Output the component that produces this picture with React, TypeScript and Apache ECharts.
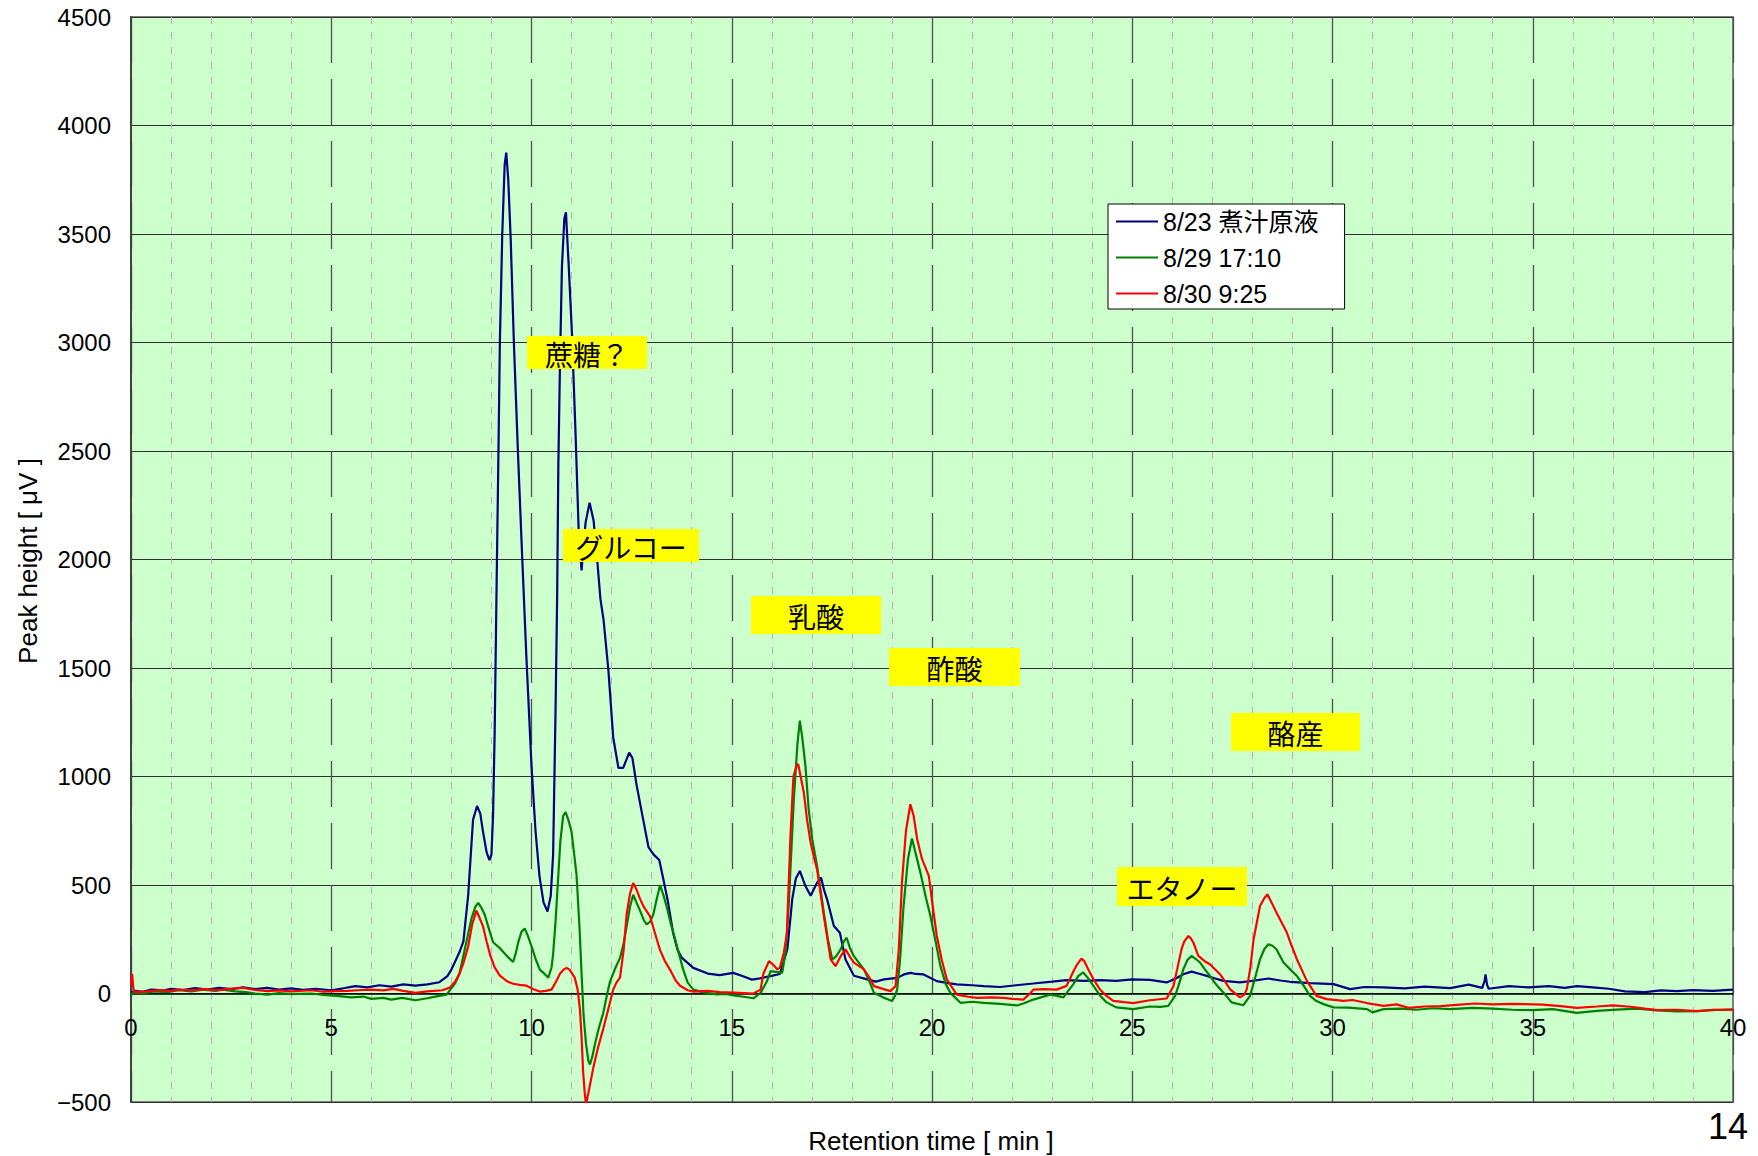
import React, { useEffect, useRef } from "react";
import * as echarts from "echarts";

// ---- data (retention time [min], peak height [µV]) ----
const seriesNames = ["8/23 煮汁原液", "8/29 17:10", "8/30 9:25"];

const blueData: number[][] = [
  [0, 5], [0.1, 12], [0.3, 8], [0.5, 18], [0.8, 14], [1.0, 22], [1.3, 16], [1.6, 25], [1.9, 18], [2.2, 26], [2.5, 20], [2.8, 28], [3.1, 20], [3.4, 26], [3.7, 18], [4.0, 24], [4.3, 17], [4.6, 22], [5.0, 15], [5.3, 24], [5.6, 34], [5.9, 28], [6.2, 38], [6.5, 32], [6.8, 42], [7.1, 36], [7.4, 42], [7.7, 52], [7.9, 80], [8.0, 110], [8.2, 190], [8.3, 240], [8.42, 455], [8.54, 800], [8.64, 864], [8.72, 830], [8.79, 745], [8.88, 650], [8.95, 615], [9.0, 640], [9.04, 820], [9.08, 1200], [9.13, 1900], [9.17, 2430], [9.21, 3000], [9.27, 3500], [9.33, 3820], [9.37, 3875], [9.42, 3750], [9.48, 3480], [9.56, 3000], [9.66, 2500], [9.77, 2000], [9.87, 1560], [10.0, 1050], [10.1, 750], [10.2, 540], [10.3, 420], [10.4, 378], [10.48, 450], [10.54, 640], [10.6, 1300], [10.64, 1820], [10.67, 2430], [10.71, 2890], [10.76, 3350], [10.82, 3570], [10.86, 3600], [10.93, 3350], [11.01, 3040], [11.1, 2580], [11.18, 2120], [11.25, 1950], [11.35, 2170], [11.45, 2262], [11.55, 2180], [11.64, 2000], [11.72, 1820], [11.8, 1720], [11.92, 1490], [12.04, 1180], [12.17, 1040], [12.29, 1040], [12.44, 1110], [12.52, 1085], [12.62, 965], [12.79, 800], [12.92, 675], [13.05, 640], [13.19, 615], [13.3, 520], [13.4, 430], [13.54, 275], [13.65, 200], [13.75, 165], [14.04, 118], [14.4, 92], [14.7, 85], [15.04, 95], [15.3, 78], [15.5, 64], [15.7, 70], [15.97, 80], [16.2, 90], [16.3, 150], [16.39, 205], [16.51, 434], [16.6, 530], [16.7, 565], [16.84, 495], [16.97, 450], [17.13, 511], [17.23, 534], [17.3, 480], [17.38, 434], [17.55, 311], [17.7, 280], [17.84, 157], [18.05, 82], [18.38, 65], [18.6, 55], [18.8, 65], [19.13, 72], [19.3, 88], [19.46, 95], [19.6, 90], [19.79, 88], [20.12, 57], [20.4, 48], [20.62, 42], [21.0, 38], [21.29, 34], [21.7, 30], [22.1, 38], [22.53, 46], [23.0, 55], [23.36, 62], [23.8, 58], [24.2, 62], [24.6, 58], [25.0, 65], [25.44, 63], [25.86, 51], [26.1, 70], [26.275, 89], [26.48, 101], [26.65, 92], [26.86, 81], [27.05, 70], [27.275, 58], [27.69, 51], [28.0, 58], [28.4, 69], [28.7, 60], [28.94, 54], [29.44, 48], [30.025, 43], [30.44, 20], [30.8, 30], [31.275, 28], [31.8, 24], [32.3, 32], [32.94, 25], [33.4, 41], [33.74, 26], [33.8, 60], [33.82, 88], [33.86, 40], [33.9, 22], [34.4, 34], [34.9, 28], [35.4, 34], [35.8, 26], [36.1, 34], [36.5, 28], [36.9, 22], [37.3, 10], [37.8, 6], [38.2, 14], [38.6, 11], [39.0, 16], [39.5, 12], [40, 18],
];

const greenData: number[][] = [
  [0, -10], [0.05, 5], [0.3, 2], [0.6, 10], [0.9, 6], [1.2, 15], [1.5, 10], [1.8, 18], [2.1, 12], [2.3, 18], [2.6, 10], [2.87, 6], [3.1, 0], [3.4, -5], [3.7, 2], [4.0, -3], [4.5, 0], [4.8, -6], [5.2, -12], [5.5, -18], [5.8, -14], [6.0, -25], [6.3, -20], [6.5, -28], [6.77, -20], [7.1, -31], [7.4, -22], [7.66, -12], [7.88, -5], [8.1, 49], [8.2, 90], [8.33, 200], [8.5, 345], [8.6, 400], [8.67, 418], [8.75, 395], [8.83, 364], [8.95, 290], [9.04, 236], [9.21, 209], [9.4, 170], [9.54, 145], [9.6, 180], [9.67, 236], [9.75, 285], [9.83, 300], [9.9, 270], [10.0, 218], [10.1, 160], [10.21, 109], [10.3, 95], [10.42, 73], [10.5, 120], [10.54, 182], [10.6, 330], [10.67, 545], [10.72, 700], [10.79, 818], [10.85, 836], [10.92, 800], [11.0, 745], [11.06, 650], [11.125, 545], [11.2, 300], [11.25, 91], [11.3, -100], [11.36, -230], [11.42, -310], [11.46, -327], [11.52, -290], [11.58, -236], [11.68, -160], [11.79, -91], [11.88, -10], [11.96, 55], [12.1, 120], [12.21, 164], [12.3, 230], [12.375, 309], [12.46, 400], [12.54, 455], [12.62, 420], [12.71, 382], [12.8, 340], [12.875, 318], [12.96, 330], [13.04, 364], [13.12, 430], [13.21, 500], [13.3, 450], [13.375, 400], [13.48, 320], [13.58, 255], [13.7, 170], [13.79, 109], [13.9, 50], [14.04, 18], [14.3, 5], [14.625, -4], [14.85, -2], [15.04, -9], [15.3, -15], [15.54, -22], [15.72, 3], [15.875, 55], [15.97, 103], [16.1, 100], [16.26, 95], [16.35, 200], [16.43, 434], [16.55, 895], [16.64, 1150], [16.7, 1257], [16.76, 1180], [16.84, 1049], [16.92, 850], [17.01, 711], [17.13, 588], [17.3, 372], [17.4, 250], [17.51, 157], [17.6, 170], [17.72, 203], [17.8, 240], [17.87, 257], [17.95, 210], [18.05, 172], [18.3, 111], [18.45, 50], [18.55, 3], [18.8, -20], [19.0, -35], [19.08, -10], [19.13, 18], [19.2, 150], [19.29, 403], [19.4, 620], [19.5, 714], [19.6, 640], [19.71, 557], [19.85, 440], [19.96, 357], [20.1, 230], [20.21, 126], [20.35, 40], [20.46, 3], [20.71, -43], [21.0, -38], [21.29, -43], [21.7, -48], [22.12, -55], [22.3, -45], [22.53, -28], [22.95, -5], [23.1, -10], [23.28, -18], [23.53, 43], [23.65, 80], [23.775, 97], [23.9, 70], [24.03, 35], [24.2, -10], [24.36, -41], [24.6, -64], [25.02, -72], [25.44, -60], [25.7, -62], [25.9, -57], [26.07, -11], [26.18, 50], [26.275, 112], [26.38, 155], [26.48, 173], [26.58, 160], [26.69, 143], [26.8, 115], [26.94, 81], [27.1, 40], [27.275, 5], [27.48, -41], [27.775, -54], [27.94, -11], [28.05, 60], [28.19, 158], [28.3, 205], [28.4, 227], [28.5, 220], [28.6, 204], [28.775, 143], [28.95, 110], [29.11, 81], [29.3, 30], [29.44, -11], [29.6, -35], [29.775, -49], [30.025, -64], [30.4, -65], [30.86, -72], [31.0, -87], [31.275, -72], [31.7, -70], [32.1, -75], [32.5, -68], [32.94, -72], [33.5, -66], [34.0, -70], [34.5, -75], [35.0, -77], [35.5, -72], [36.1, -89], [36.6, -80], [37.1, -74], [37.6, -70], [38.1, -78], [38.6, -82], [39.1, -81], [39.6, -76], [40, -74],
];

const redData: number[][] = [
  [0, 40], [0.03, 90], [0.06, 20], [0.1, 6], [0.4, 10], [0.7, 16], [1.0, 12], [1.2, 18], [1.5, 14], [1.8, 20], [2.1, 16], [2.3, 18], [2.6, 24], [2.8, 26], [3.1, 16], [3.4, 11], [3.7, 14], [4.0, 10], [4.5, 15], [4.8, 8], [5.1, 11], [5.4, 12], [5.66, 15], [6.0, 18], [6.3, 14], [6.55, 21], [6.8, 12], [7.1, 3], [7.4, 10], [7.77, 15], [7.96, 27], [8.1, 57], [8.2, 91], [8.3, 140], [8.42, 218], [8.52, 320], [8.625, 382], [8.7, 350], [8.79, 309], [8.88, 240], [8.96, 182], [9.08, 120], [9.21, 82], [9.4, 55], [9.54, 45], [9.7, 40], [9.875, 36], [10.05, 20], [10.21, 9], [10.35, 12], [10.5, 18], [10.6, 50], [10.71, 91], [10.8, 110], [10.875, 118], [10.95, 110], [11.08, 73], [11.15, 20], [11.21, -73], [11.25, -200], [11.29, -364], [11.33, -460], [11.36, -510], [11.42, -460], [11.54, -345], [11.66, -250], [11.79, -164], [11.92, -70], [12.04, 18], [12.12, 50], [12.21, 73], [12.3, 200], [12.375, 364], [12.46, 460], [12.54, 509], [12.62, 480], [12.71, 436], [12.8, 400], [12.96, 355], [13.08, 280], [13.21, 200], [13.33, 150], [13.46, 109], [13.6, 60], [13.71, 36], [13.9, 15], [14.04, 9], [14.4, 12], [14.7, 6], [15.04, 4], [15.3, 2], [15.54, 0], [15.72, 18], [15.79, 91], [15.93, 149], [16.05, 130], [16.14, 111], [16.2, 118], [16.3, 188], [16.375, 273], [16.47, 742], [16.54, 1000], [16.62, 1050], [16.66, 1057], [16.72, 1000], [16.8, 926], [16.88, 800], [16.97, 695], [17.05, 630], [17.13, 572], [17.3, 357], [17.47, 157], [17.59, 126], [17.72, 172], [17.84, 203], [17.95, 170], [18.05, 142], [18.3, 111], [18.45, 70], [18.55, 34], [18.96, 11], [19.09, 34], [19.17, 200], [19.25, 511], [19.35, 750], [19.46, 872], [19.54, 820], [19.63, 711], [19.75, 620], [19.92, 542], [20.02, 400], [20.12, 265], [20.25, 150], [20.37, 65], [20.62, -5], [20.9, -15], [21.12, -20], [21.5, -18], [21.79, -20], [22.0, -25], [22.28, -28], [22.45, 0], [22.53, 18], [22.8, 20], [23.11, 18], [23.36, 35], [23.5, 90], [23.6, 127], [23.73, 161], [23.8, 150], [23.9, 112], [24.05, 60], [24.19, 20], [24.35, -10], [24.525, -34], [24.8, -40], [25.02, -44], [25.44, -31], [25.86, -23], [26.03, 35], [26.12, 110], [26.23, 204], [26.3, 240], [26.4, 265], [26.46, 255], [26.525, 235], [26.65, 173], [26.8, 150], [26.94, 135], [27.19, 89], [27.3, 60], [27.44, 20], [27.69, -18], [27.8, -5], [27.86, 20], [27.95, 120], [28.03, 250], [28.19, 403], [28.3, 440], [28.375, 457], [28.45, 430], [28.6, 373], [28.86, 281], [28.98, 220], [29.11, 158], [29.36, 58], [29.6, -11], [29.86, -26], [30.27, -34], [30.5, -30], [30.86, -44], [31.275, -57], [31.6, -50], [31.9, -66], [32.3, -60], [32.7, -58], [33.1, -52], [33.57, -46], [34.0, -50], [34.5, -48], [35.25, -51], [35.7, -58], [36.1, -66], [36.6, -60], [37.0, -55], [37.44, -61], [37.8, -70], [38.1, -77], [38.6, -75], [39.1, -81], [39.5, -75], [40, -74],
];

const annotationTexts = ["蔗糖？", "グルコー", "乳酸", "酢酸", "酪産", "エタノー"];
const xAxisTitle = "Retention time [ min ]";
const yAxisTitle = "Peak height [ μV ]";
const pageNumber = "14";
const Y_MIN = -500;
const Y_MAX = 4500;

// ---- layout / style (pixels) ----
const W = 1758;
const H = 1156;
const GRID = { left: 131, top: 17, right: 25, bottom: 54 };
const annotationBoxes = [
  { x: 527, y: 336, w: 120, h: 33 },
  { x: 563, y: 529, w: 136, h: 33 },
  { x: 751, y: 596, w: 130, h: 38 },
  { x: 889, y: 648, w: 131, h: 38 },
  { x: 1231, y: 713, w: 129, h: 38 },
  { x: 1117, y: 867, w: 130, h: 39 },
];
const FONT = "'Liberation Sans', 'Noto Sans CJK JP', sans-serif";
const CJK_FONT = "'Noto Sans CJK JP', sans-serif";
const colors = ["#000080", "#008000", "#FF0000"];

export default function App() {
  const ref = useRef<HTMLDivElement>(null);
  useEffect(() => {
    document.body.style.margin = "0";
    if (!ref.current) return;
    const chart = echarts.init(ref.current, null, { renderer: "svg" });

    const plotH = H - GRID.top - GRID.bottom;
    // distance from grid bottom up to the y = 0 line
    const zeroOffset = (plotH * (0 - Y_MIN)) / (Y_MAX - Y_MIN);

    const graphics: any[] = [];
    annotationTexts.forEach((t, i) => {
      const b = annotationBoxes[i];
      graphics.push({
        type: "rect",
        shape: { x: b.x, y: b.y, width: b.w, height: b.h },
        style: { fill: "#FFFF00" },
        z: 100,
      });
      graphics.push({
        type: "text",
        x: b.x + b.w / 2,
        y: b.y + b.h / 2 + 1,
        style: {
          text: t,
          fill: "#000",
          fontSize: 28,
          fontFamily: CJK_FONT,
          align: "center",
          verticalAlign: "middle",
        },
        z: 101,
      });
    });
    graphics.push({
      type: "text",
      x: 931,
      y: 1141,
      style: { text: xAxisTitle, fill: "#000", fontSize: 26, fontFamily: FONT, align: "center", verticalAlign: "middle" },
    });
    graphics.push({
      type: "text",
      x: 28,
      y: 561,
      rotation: Math.PI / 2,
      style: { text: yAxisTitle, fill: "#000", fontSize: 26, fontFamily: FONT, align: "center", verticalAlign: "middle" },
    });
    graphics.push({
      type: "text",
      x: 1728,
      y: 1126,
      style: { text: pageNumber, fill: "#000", fontSize: 36, fontFamily: FONT, align: "center", verticalAlign: "middle" },
    });

    const datasets = [blueData, greenData, redData];

    chart.setOption({
      animation: false,
      backgroundColor: "#ffffff",
      grid: {
        ...GRID,
        show: true,
        backgroundColor: "#CCFFCC",
        borderColor: "#808080",
        borderWidth: 2,
        containLabel: false,
      },
      legend: {
        orient: "vertical",
        left: 1108,
        top: 204,
        backgroundColor: "#ffffff",
        borderColor: "#000000",
        borderWidth: 1,
        padding: [5, 26, 3, 8],
        itemGap: 11,
        itemWidth: 42,
        itemHeight: 2,
        icon: "rect",
        textStyle: { fontSize: 25, lineHeight: 25, color: "#000", fontFamily: FONT },
        data: seriesNames.map((n) => ({ name: n, icon: "rect" })),
      },
      xAxis: {
        type: "value",
        min: 0,
        max: 40,
        interval: 5,
        offset: -zeroOffset,
        axisLine: { show: true, onZero: false, lineStyle: { color: "#000", width: 1.5 } },
        axisTick: { show: false },
        axisLabel: { fontSize: 24, color: "#000", fontFamily: FONT, margin: 22 },
        splitLine: { show: true, lineStyle: { color: "#505050", width: 1.3, type: [46, 16] } },
        minorTick: { show: false, splitNumber: 5 },
        minorSplitLine: { show: true, lineStyle: { color: "#b4b4b4", width: 1, type: [7, 8] } },
      },
      yAxis: {
        type: "value",
        min: Y_MIN,
        max: Y_MAX,
        interval: 500,
        axisLine: { show: true, onZero: false, lineStyle: { color: "#404040", width: 2 } },
        axisTick: { show: false },
        axisLabel: {
          fontSize: 24,
          color: "#000",
          fontFamily: FONT,
          margin: 20,
          formatter: (v: number) => (v < 0 ? "\u2212" + Math.abs(v) : String(v)),
        },
        splitLine: { show: true, lineStyle: { color: "#303030", width: 1 } },
      },
      series: datasets.map((d, i) => ({
        name: seriesNames[i],
        type: "line",
        data: d,
        symbol: "none",
        showSymbol: false,
        color: colors[i],
        lineStyle: { color: colors[i], width: 2.2 },
        z: 10 + i,
      })),
      graphic: graphics,
    });

    return () => chart.dispose();
  }, []);

  return <div ref={ref} style={{ width: W, height: H }} />;
}
